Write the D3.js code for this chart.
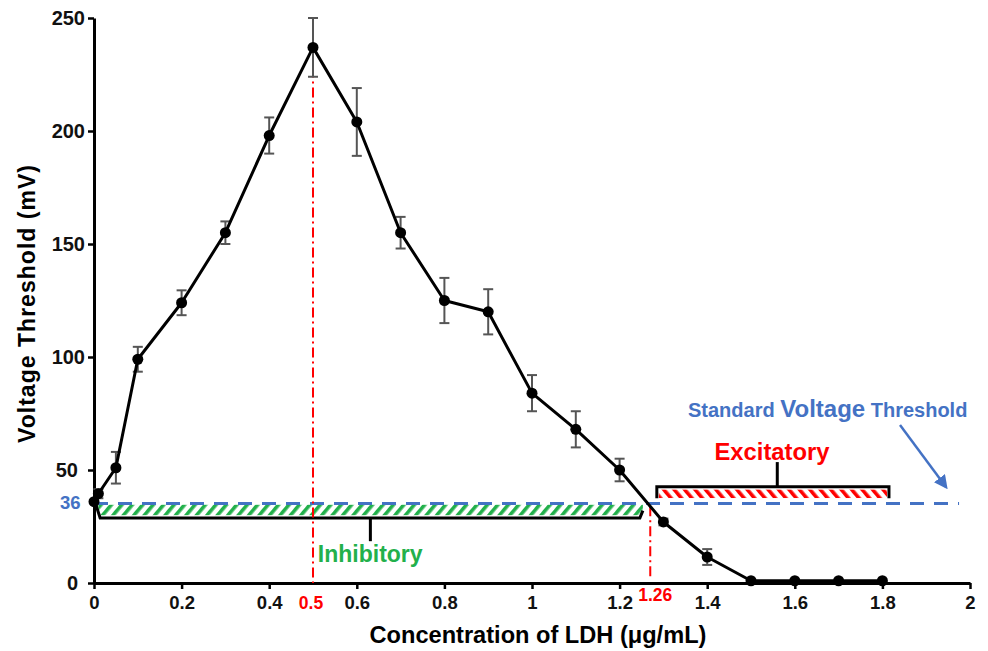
<!DOCTYPE html>
<html><head><meta charset="utf-8">
<script src="https://cdn.jsdelivr.net/npm/d3@7"></script>
<style>
body{margin:0;background:#fff}
svg{display:block}
text{font-family:Arial,"Liberation Sans",sans-serif;font-weight:bold}
</style>
</head><body>
<svg id="c" width="988" height="651"></svg>
<script>
// ---- data ----
const conc      = [0, 0.01, 0.05, 0.1, 0.2, 0.3, 0.4, 0.5, 0.6, 0.7, 0.8, 0.9, 1.0, 1.1, 1.2, 1.3, 1.4, 1.5, 1.6, 1.7, 1.8];
const threshold = [36, 39.5, 51, 99, 124, 155, 198, 237, 204, 155, 125, 120, 84, 68, 50, 27, 11.5, 1, 1, 1, 1];
const errorBars = [0, 2, 7, 5.5, 5.5, 5, 8, 13, 15, 7, 10, 10, 8, 8, 5, 1.5, 3.5, 0, 0, 0, 0];
const xTicks = [0, 0.2, 0.4, 0.6, 0.8, 1, 1.2, 1.4, 1.6, 1.8, 2];
const yTicks = [0, 50, 100, 150, 200, 250];
const standardThreshold = 36;
const peakConc = 0.5, peakLabel = "0.5";
const crossConc = 1.27, crossLabel = "1.26";
const standardLineEnd = 1.975;
const inhibitoryRange = [0.01, 1.26];
const excitatoryRange = [1.285, 1.815];

// ---- layout ----
const svg = d3.select("#c");
const x = d3.scaleLinear().domain([0, 2]).range([94, 970]);
const y = d3.scaleLinear().domain([0, 250]).range([583, 18]);
const blue = "#4472C4", red = "#FF0000", green = "#22B04B";

const defs = svg.append("defs");
function hatch(id, color, angle) {
  const p = defs.append("pattern").attr("id", id).attr("patternUnits", "userSpaceOnUse")
    .attr("width", 8).attr("height", 8).attr("patternTransform", `rotate(${angle})`);
  p.append("rect").attr("width", 8).attr("height", 8).attr("fill", "#fff");
  p.append("rect").attr("x", 0).attr("width", 3.6).attr("height", 8).attr("fill", color);
}
hatch("hG", green, 40);
hatch("hR", red, -40);
defs.append("marker").attr("id", "arr").attr("viewBox", "0 0 10 10").attr("refX", 8).attr("refY", 5)
  .attr("markerWidth", 5.5).attr("markerHeight", 5.5).attr("orient", "auto")
  .append("path").attr("d", "M0,0L10,5L0,10z").attr("fill", blue);

// ---- axes ----
const gx = svg.append("g").attr("transform", `translate(0,${y(0)})`)
  .call(d3.axisBottom(x).tickValues(xTicks).tickSize(6).tickSizeOuter(0).tickFormat(d => d3.format("~g")(d)));
const gy = svg.append("g").attr("transform", `translate(${x(0)},0)`)
  .call(d3.axisLeft(y).tickValues(yTicks).tickSize(6).tickSizeOuter(0));
[gx, gy].forEach(g => {
  g.select(".domain").attr("stroke", "#000").attr("stroke-width", 3);
  g.selectAll(".tick line").attr("stroke", "#000").attr("stroke-width", 2.5);
  g.selectAll(".tick text").attr("fill", "#111").style("font-size", "18.5px").style("font-family", "Arial, 'Liberation Sans', sans-serif").style("font-weight", "bold");
});
gx.selectAll(".tick text").attr("y", 13);
gy.selectAll(".tick text").style("font-size", "20px").attr("x", d => d < 100 ? -16 : -9);

// extra axis labels
svg.append("text").attr("x", 60).attr("y", y(standardThreshold) + 7).attr("fill", blue)
  .style("font-size", "18.5px").text(standardThreshold);
svg.append("text").attr("x", x(peakConc) - 2).attr("y", 609).attr("text-anchor", "middle").attr("fill", red)
  .style("font-size", "17.5px").text(peakLabel);
svg.append("text").attr("x", x(crossConc) - 12).attr("y", 601).attr("fill", red)
  .style("font-size", "17.5px").text(crossLabel);

// axis titles
svg.append("text").attr("transform", `translate(35,${304}) rotate(-90)`).attr("text-anchor", "middle")
  .attr("textLength", 278).attr("lengthAdjust", "spacing")
  .style("font-size", "23px").attr("fill", "#000").text("Voltage Threshold (mV)");
svg.append("text").attr("x", 538).attr("y", 643).attr("text-anchor", "middle")
  .style("font-size", "23.6px").attr("fill", "#000").text("Concentration of LDH (\u03BCg/mL)");

// ---- inhibitory annotation ----
svg.append("rect").attr("x", x(inhibitoryRange[0])).attr("y", y(34.6))
  .attr("width", x(inhibitoryRange[1]) - x(inhibitoryRange[0]) - 3).attr("height", y(30) - y(34.6))
  .attr("fill", "url(#hG)");
svg.append("path").attr("fill", "none").attr("stroke", "#000").attr("stroke-width", 3)
  .attr("d", d3.line()([[x(0) + 2, y(34.5)], [x(0.014), y(28.8)], [x(inhibitoryRange[1]) - 6, y(28.8)], [x(inhibitoryRange[1]) - 3, y(32)]]));
svg.append("line").attr("stroke", "#000").attr("stroke-width", 3)
  .attr("x1", x(0.631)).attr("x2", x(0.631)).attr("y1", y(28.8)).attr("y2", y(18.5));
svg.append("text").attr("x", x(0.511)).attr("y", y(9.3)).attr("fill", green)
  .style("font-size", "23px").text("Inhibitory");

// ---- excitatory annotation ----
svg.append("rect").attr("x", x(excitatoryRange[0]) + 2).attr("y", y(41.3))
  .attr("width", x(excitatoryRange[1]) - x(excitatoryRange[0]) - 4).attr("height", y(37.6) - y(41.3))
  .attr("fill", "url(#hR)");
svg.append("path").attr("fill", "none").attr("stroke", "#000").attr("stroke-width", 3)
  .attr("d", d3.line()([[x(excitatoryRange[0]), y(37.5)], [x(excitatoryRange[0]), y(42.6)], [x(excitatoryRange[1]), y(42.6)], [x(excitatoryRange[1]), y(37.5)]]));
svg.append("line").attr("stroke", "#000").attr("stroke-width", 3)
  .attr("x1", x(1.56)).attr("x2", x(1.56)).attr("y1", y(42.6)).attr("y2", y(53.5));
svg.append("text").attr("x", x(1.548)).attr("y", y(54.4)).attr("text-anchor", "middle").attr("fill", red)
  .style("font-size", "23.8px").text("Excitatory");

// ---- standard threshold line & label ----
svg.append("line").attr("x1", x(0)).attr("x2", x(standardLineEnd)).attr("y1", y(standardThreshold - 0.8)).attr("y2", y(standardThreshold - 0.8))
  .attr("stroke", blue).attr("stroke-width", 3).attr("stroke-dasharray", "14,10");
const lab = svg.append("text").attr("x", 688).attr("y", 417).attr("fill", blue);
lab.append("tspan").style("font-size", "20px").text("Standard ");
lab.append("tspan").style("font-size", "24px").text("Voltage");
lab.append("tspan").style("font-size", "20px").text(" Threshold");
svg.append("line").attr("x1", 900).attr("y1", 425).attr("x2", 946).attr("y2", 487)
  .attr("stroke", blue).attr("stroke-width", 2.5).attr("marker-end", "url(#arr)");

// ---- red dash-dot guide lines ----
const peakVal = threshold[conc.indexOf(peakConc)];
svg.append("line").attr("x1", x(peakConc)).attr("x2", x(peakConc)).attr("y1", y(peakVal)).attr("y2", y(0))
  .attr("stroke", red).attr("stroke-width", 2).attr("stroke-dasharray", "10,4,2,4");
svg.append("line").attr("x1", x(crossConc)).attr("x2", x(crossConc)).attr("y1", y(standardThreshold - 2)).attr("y2", y(2))
  .attr("stroke", red).attr("stroke-width", 2).attr("stroke-dasharray", "10,4,2,4");

// ---- data ----
const data = conc.map((c, i) => ({c, v: threshold[i], e: errorBars[i]}));
const eb = svg.append("g").attr("stroke", "#555").attr("stroke-width", 2).attr("fill", "none");
data.filter(d => d.e > 0).forEach(d => {
  eb.append("line").attr("x1", x(d.c)).attr("x2", x(d.c)).attr("y1", y(d.v - d.e)).attr("y2", y(d.v + d.e));
  [d.v - d.e, d.v + d.e].forEach(v => eb.append("line").attr("x1", x(d.c) - 5).attr("x2", x(d.c) + 5).attr("y1", y(v)).attr("y2", y(v)));
});
svg.append("path").datum(data).attr("fill", "none").attr("stroke", "#000").attr("stroke-width", 3).attr("stroke-linejoin", "round")
  .attr("d", d3.line().x(d => x(d.c)).y(d => y(d.v)));
svg.append("g").selectAll("circle").data(data).join("circle")
  .attr("cx", d => x(d.c)).attr("cy", d => y(d.v)).attr("r", 5.5).attr("fill", "#000");
</script>
</body></html>
